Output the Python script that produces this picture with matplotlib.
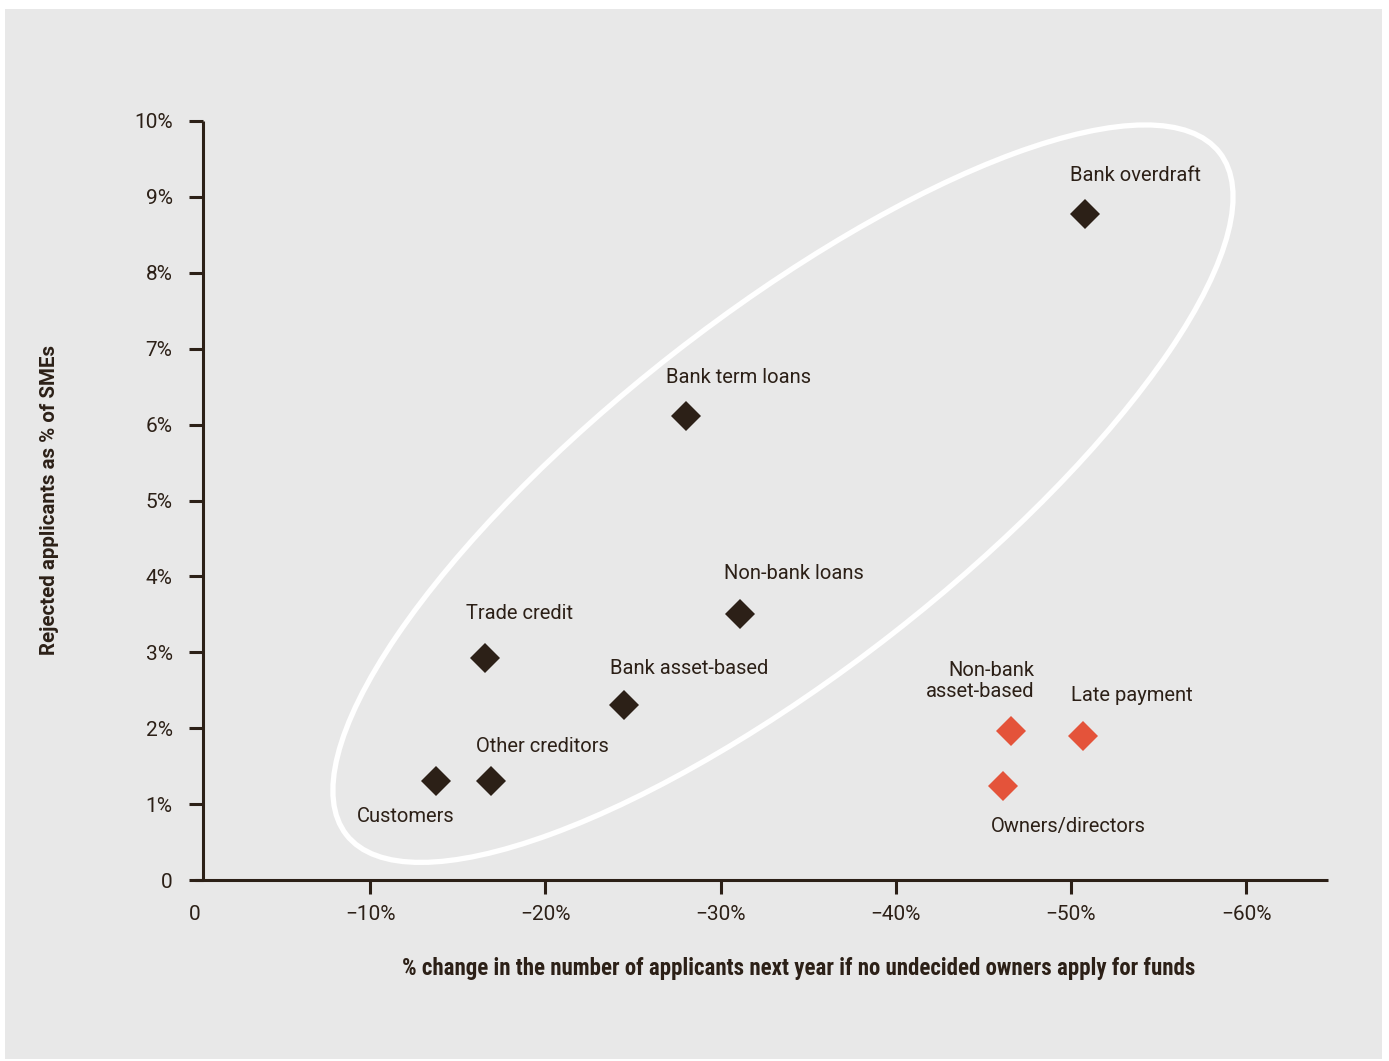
import matplotlib
matplotlib.use("Agg")
import matplotlib.pyplot as plt
from matplotlib.patches import Ellipse, Rectangle
from matplotlib.transforms import ScaledTranslation

plt.rcParams['font.family'] = ['Roboto', 'DejaVu Sans']

# ---- data ----
names = ["Bank overdraft", "Bank term loans", "Non-bank loans", "Trade credit",
         "Bank asset-based", "Other creditors", "Customers",
         "Non-bank\nasset-based", "Late payment", "Owners/directors"]
x_change = [-50.8, -28.0, -31.1, -16.55, -24.5, -16.9, -13.76, -46.6, -50.7, -46.1]
y_rejected = [8.77, 6.11, 3.50, 2.92, 2.31, 1.30, 1.30, 1.96, 1.90, 1.24]
group = ["bank", "bank", "bank", "bank", "bank", "bank", "bank",
         "other", "other", "other"]
x_ticks = [0, -10, -20, -30, -40, -50, -60]
x_tick_labels = ["0", "\u221210%", "\u221220%", "\u221230%", "\u221240%", "\u221250%", "\u221260%"]
y_ticks = list(range(0, 11))
y_tick_labels = ["0"] + [f"{v}%" for v in range(1, 11)]

# ---- style ----
DARK = "#2c2017"
RED = "#e4533a"
BG = "#e8e8e8"
colors = {"bank": DARK, "other": RED}
# label offsets in points: (dx, dy, ha)
label_offsets = [(36, 28, "center"), (38, 28, "center"), (39, 29.5, "center"),
                 (25, 32, "center"), (47, 26, "center"), (37, 25, "center"),
                 (-22, -25, "center"), (16.5, 36, "right"), (35, 29, "center"),
                 (47.5, -29, "center")]

W, H, DPI = 13.89, 10.61, 100
fig = plt.figure(figsize=(W, H), dpi=DPI, facecolor="white")
fig.patches.append(Rectangle((5 / 1389, 2 / 1061), 1377 / 1389, 1050 / 1061,
                             transform=fig.transFigure, facecolor=BG,
                             edgecolor="none", zorder=-10))

# axes: x data 0 at px 195, right end px 1328; y 0 at px 880, 10% at px 121
left_px, right_px = 195, 1328
bot_px, top_px = 880, 121
ax = fig.add_axes([left_px / 1389, (1061 - bot_px) / 1061,
                   (right_px - left_px) / 1389, (bot_px - top_px) / 1061])
ax.set_facecolor("none")
px_per_pct = 17.52
ax.set_xlim(0, -(right_px - left_px) / px_per_pct)
ax.set_ylim(0, 10.0)

for s in ["top", "right"]:
    ax.spines[s].set_visible(False)
ax.spines["left"].set_position(("data", -0.46))
ax.spines["left"].set_bounds(0, 10)
for s in ["left", "bottom"]:
    ax.spines[s].set_color(DARK)
    ax.spines[s].set_linewidth(2.2)
    ax.spines[s].set_capstyle("butt")

ax.set_xticks(x_ticks)
ax.set_xticklabels(x_tick_labels)
ax.set_yticks(y_ticks)
ax.set_yticklabels(y_tick_labels)
ax.tick_params(axis="both", colors=DARK, width=2.2, length=10, labelsize=15,
               labelcolor=DARK)
ax.tick_params(axis="x", pad=8)
ax.tick_params(axis="y", pad=12)
ax.xaxis.get_major_ticks()[0].tick1line.set_visible(False)

# ellipse (size in inches, centred at a data location)
ell_center = (-33.56, 5.09)
ell = Ellipse((0, 0), 11.08, 3.556, angle=38.0, facecolor="none",
              edgecolor="white", linewidth=3.8,
              transform=fig.dpi_scale_trans + ScaledTranslation(
                  ell_center[0], ell_center[1], ax.transData),
              zorder=1, clip_on=False)
ax.add_patch(ell)

for xi, yi, g in zip(x_change, y_rejected, group):
    ax.plot(xi, yi, marker="D", markersize=15.5, color=colors[g],
            markeredgewidth=0, linestyle="none", zorder=3, clip_on=False)

for name, xi, yi, (dx, dy, ha) in zip(names, x_change, y_rejected, label_offsets):
    ax.annotate(name, (xi, yi), xytext=(dx, dy), textcoords="offset points",
                ha=ha, va="center", multialignment=ha, fontsize=14.5,
                color=DARK, linespacing=1.15, zorder=4)

fig.text(799 / 1389, 1 - 969 / 1061,
         "% change in the number of applicants next year if no undecided owners apply for funds",
         ha="center", va="center", fontsize=16.5, fontweight="bold", color=DARK,
         family=["Roboto Condensed", "Roboto", "DejaVu Sans"])
fig.text(50 / 1389, 1 - 500 / 1061, "Rejected applicants as % of SMEs",
         ha="center", va="center", rotation=90, fontsize=14.8, fontweight="bold",
         color=DARK)

fig.savefig("out.png", dpi=DPI, facecolor="white")
